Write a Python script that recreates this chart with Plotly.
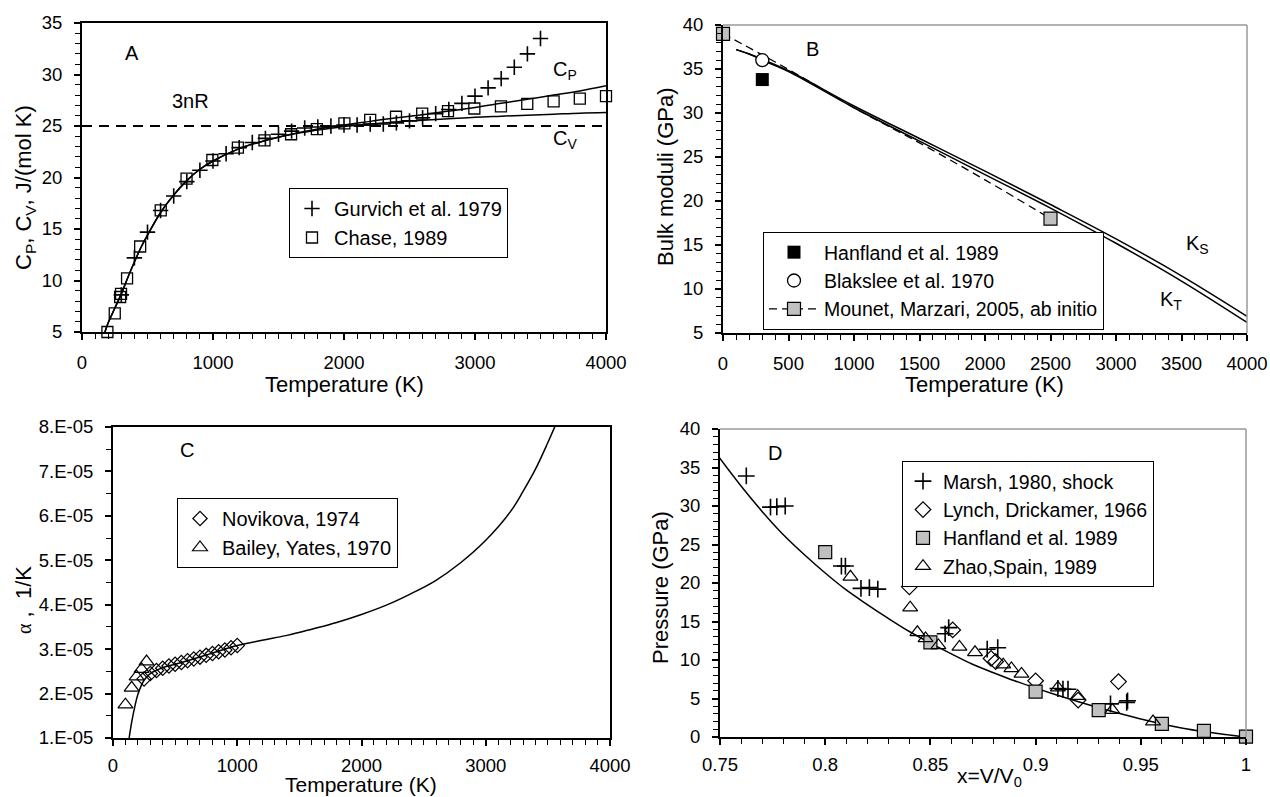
import plotly.graph_objects as go

W, H = 1270, 797
FONT = "Liberation Sans, Arial, sans-serif"

# ---------------- Panel A: heat capacity ----------------
a_curve_T = [175, 200, 250, 300, 350, 400, 450, 500, 600, 700, 800, 900, 1000, 1200, 1400, 1600,
             1800, 2000, 2200, 2400, 2600, 2800, 3000, 3200, 3400, 3600, 3800, 4000]
a_cp = [5.0, 5.9, 7.3, 8.7, 10.3, 11.8, 13.2, 14.4, 16.6, 18.3, 19.7, 20.8, 21.6, 22.8, 23.6, 24.2,
        24.7, 25.1, 25.45, 25.8, 26.1, 26.45, 26.8, 27.2, 27.6, 28.0, 28.4, 28.9]
a_cv = [5.0, 5.9, 7.3, 8.7, 10.3, 11.8, 13.2, 14.4, 16.6, 18.3, 19.7, 20.8, 21.6, 22.8, 23.6, 24.2,
        24.6, 24.95, 25.2, 25.4, 25.55, 25.7, 25.85, 25.95, 26.05, 26.15, 26.25, 26.3]
a_3nR_T = [0, 4000]
a_3nR = [25, 25]
gurvich_T = [300, 400, 500, 600, 700, 800, 900, 1000, 1100, 1200, 1300, 1400, 1500, 1600, 1700,
             1800, 1900, 2000, 2100, 2200, 2300, 2400, 2500, 2600, 2700, 2800, 2900, 3000, 3100,
             3200, 3300, 3400, 3500]
gurvich_cp = [8.6, 12.2, 14.7, 16.8, 18.2, 19.6, 20.7, 21.6, 22.3, 22.9, 23.4, 23.8, 24.2, 24.5,
              24.8, 24.9, 25.0, 25.1, 25.1, 25.2, 25.2, 25.3, 25.5, 25.8, 26.2, 26.6, 27.2, 27.9,
              28.7, 29.6, 30.7, 32.0, 33.5]
chase_T = [194, 250, 291, 298, 344, 444, 601, 798, 995, 1190, 1393, 1596, 1793, 2003, 2200, 2397,
           2597, 2794, 2995, 3198, 3399, 3600, 3800, 4000]
chase_cp = [5.0, 6.8, 8.4, 8.7, 10.2, 13.3, 16.8, 19.9, 21.7, 22.9, 23.6, 24.2, 24.7, 25.25, 25.6,
            25.9, 26.2, 26.45, 26.7, 26.9, 27.15, 27.4, 27.65, 27.9]

# ---------------- Panel B: bulk moduli ----------------
b_T = [100, 200, 300, 500, 1000, 1500, 2000, 2500, 3000, 3500, 4000]
b_KS = [37.2, 36.7, 36.1, 34.8, 30.8, 27.1, 23.4, 19.6, 15.7, 11.5, 6.9]
b_KT = [37.2, 36.7, 36.0, 34.7, 30.6, 26.8, 23.0, 19.2, 15.2, 10.9, 6.2]
hanfland_b_T = [300]
hanfland_b_K = [33.8]
blakslee_T = [300]
blakslee_K = [36.0]
mounet_T = [0, 2500]
mounet_K = [39.0, 18.0]
mounet_fit_T = [0, 300, 600, 1000, 1500, 2000, 2500]
mounet_fit_K = [39.0, 36.6, 34.1, 30.6, 26.6, 22.4, 18.0]

# ---------------- Panel C: thermal expansion ----------------
c_T = [130, 150, 175, 200, 250, 300, 400, 500, 600, 800, 1000, 1200, 1400, 1600, 1800, 2000, 2200,
       2400, 2600, 2800, 3000, 3200, 3300, 3400, 3500, 3570]
c_alpha = [1.0e-5, 1.35e-5, 1.7e-5, 1.98e-5, 2.3e-5, 2.45e-5, 2.58e-5, 2.66e-5, 2.74e-5, 2.91e-5,
           3.08e-5, 3.2e-5, 3.31e-5, 3.45e-5, 3.6e-5, 3.78e-5, 3.99e-5, 4.25e-5, 4.55e-5, 4.95e-5,
           5.45e-5, 6.1e-5, 6.55e-5, 7.05e-5, 7.65e-5, 8.1e-5]
novikova_T = [250, 300, 350, 400, 450, 500, 550, 600, 650, 700, 750, 800, 850, 900, 950, 1000]
novikova_alpha = [2.33e-5, 2.45e-5, 2.52e-5, 2.57e-5, 2.62e-5, 2.66e-5, 2.7e-5, 2.74e-5, 2.78e-5,
                  2.82e-5, 2.86e-5, 2.9e-5, 2.94e-5, 2.98e-5, 3.03e-5, 3.08e-5]
bailey_T = [100, 150, 190, 230, 270]
bailey_alpha = [1.75e-5, 2.13e-5, 2.38e-5, 2.55e-5, 2.72e-5]
c_tickvals = [1e-5, 2e-5, 3e-5, 4e-5, 5e-5, 6e-5, 7e-5, 8e-5]
c_ticktext = ["1.E-05", "2.E-05", "3.E-05", "4.E-05", "5.E-05", "6.E-05", "7.E-05", "8.E-05"]

# ---------------- Panel D: equation of state ----------------
d_x = [0.748, 0.76, 0.77, 0.78, 0.79, 0.80, 0.81, 0.82, 0.83, 0.84, 0.85, 0.86, 0.87, 0.88, 0.89,
       0.90, 0.91, 0.92, 0.93, 0.94, 0.95, 0.96, 0.97, 0.98, 0.99, 1.0]
d_P = [36.9, 32.6, 29.3, 26.3, 23.7, 21.3, 19.1, 17.2, 15.4, 13.7, 12.2, 10.8, 9.45, 8.35, 7.3,
       6.35, 5.45, 4.6, 3.8, 3.05, 2.35, 1.7, 1.15, 0.7, 0.32, 0.0]
marsh_x = [0.7625, 0.774, 0.777, 0.781, 0.8077, 0.8096, 0.817, 0.821, 0.825, 0.857, 0.8587,
           0.877, 0.882, 0.9106, 0.913, 0.9154, 0.9356, 0.9433, 0.9437]
marsh_P = [33.9, 29.85, 29.9, 30.0, 22.2, 22.2, 19.3, 19.4, 19.2, 13.4, 14.2, 11.4, 11.6, 6.3,
           6.2, 6.2, 4.3, 4.5, 4.7]
lynch_x = [0.84, 0.8606, 0.8788, 0.881, 0.90, 0.9202, 0.9394]
lynch_P = [19.5, 13.9, 10.2, 9.8, 7.3, 4.8, 7.2]
hanfland_d_x = [0.80, 0.85, 0.90, 0.93, 0.96, 0.98, 1.0]
hanfland_d_P = [24.0, 12.3, 5.9, 3.5, 1.7, 0.8, 0.05]
zhao_x = [0.812, 0.8404, 0.8438, 0.8477, 0.8538, 0.8638, 0.8712, 0.8846, 0.8885, 0.8933, 0.9106,
          0.920, 0.9365, 0.9558]
zhao_P = [20.8, 16.8, 13.6, 12.8, 11.9, 11.7, 11.0, 9.4, 8.9, 8.2, 6.4, 5.3, 3.5, 2.0]

GRAY = "#c0c0c0"
fig = go.Figure()

# Panel A traces
fig.add_trace(go.Scatter(x=a_3nR_T, y=a_3nR, mode="lines", xaxis="x", yaxis="y", showlegend=False,
                         line=dict(color="black", width=2, dash="10px,7px")))
fig.add_trace(go.Scatter(x=a_curve_T, y=a_cv, mode="lines", xaxis="x", yaxis="y", showlegend=False,
                         line=dict(color="black", width=1.5, shape="spline")))
fig.add_trace(go.Scatter(x=a_curve_T, y=a_cp, mode="lines", xaxis="x", yaxis="y", showlegend=False,
                         line=dict(color="black", width=1.5, shape="spline")))
fig.add_trace(go.Scatter(x=gurvich_T, y=gurvich_cp, mode="markers", xaxis="x", yaxis="y",
                         name="Gurvich et al. 1979", legend="legend", legendgroup="a1",
                         marker=dict(symbol="cross-thin-open", size=11, color="black",
                                     line=dict(color="black", width=1.6))))
fig.add_trace(go.Scatter(x=chase_T, y=chase_cp, mode="markers", xaxis="x", yaxis="y",
                         name="Chase, 1989", legend="legend", legendgroup="a2", cliponaxis=False,
                         marker=dict(symbol="square-open", size=11, color="black", line=dict(width=1.3))))

# Panel B traces
fig.add_trace(go.Scatter(x=mounet_fit_T, y=mounet_fit_K, mode="lines", xaxis="x2", yaxis="y2",
                         showlegend=False, line=dict(color="black", width=1.3, dash="8px,5px", shape="spline")))
fig.add_trace(go.Scatter(x=b_T, y=b_KS, mode="lines", xaxis="x2", yaxis="y2", showlegend=False,
                         line=dict(color="black", width=1.5, shape="spline")))
fig.add_trace(go.Scatter(x=b_T, y=b_KT, mode="lines", xaxis="x2", yaxis="y2", showlegend=False,
                         line=dict(color="black", width=1.5, shape="spline")))
fig.add_trace(go.Scatter(x=hanfland_b_T, y=hanfland_b_K, mode="markers", xaxis="x2", yaxis="y2",
                         name="Hanfland et al. 1989", legend="legend2",
                         marker=dict(symbol="square", size=13, color="black")))
fig.add_trace(go.Scatter(x=blakslee_T, y=blakslee_K, mode="markers", xaxis="x2", yaxis="y2",
                         name="Blakslee et al. 1970", legend="legend2",
                         marker=dict(symbol="circle", size=13, color="white", line=dict(color="black", width=1.3))))
fig.add_trace(go.Scatter(x=[mounet_T[0], None, mounet_T[1]], y=[mounet_K[0], None, mounet_K[1]],
                         mode="lines+markers", xaxis="x2", yaxis="y2", connectgaps=False, cliponaxis=False,
                         name="Mounet, Marzari, 2005, ab initio", legend="legend2",
                         line=dict(color="black", width=1.3, dash="8px,5px"),
                         marker=dict(symbol="square", size=13, color=GRAY, line=dict(color="black", width=1.2))))

# Panel C traces
fig.add_trace(go.Scatter(x=c_T, y=c_alpha, mode="lines", xaxis="x3", yaxis="y3", showlegend=False,
                         line=dict(color="black", width=1.5, shape="spline")))
fig.add_trace(go.Scatter(x=novikova_T, y=novikova_alpha, mode="markers", xaxis="x3", yaxis="y3",
                         name="Novikova, 1974", legend="legend3", legendgroup="c1",
                         marker=dict(symbol="diamond-open", size=11, color="black", line=dict(width=1.2))))
fig.add_trace(go.Scatter(x=bailey_T, y=bailey_alpha, mode="markers", xaxis="x3", yaxis="y3",
                         name="Bailey, Yates, 1970", legend="legend3", legendgroup="c2",
                         marker=dict(symbol="triangle-up-open", size=13, color="black", line=dict(width=1.2))))

# Panel D traces
fig.add_trace(go.Scatter(x=d_x, y=d_P, mode="lines", xaxis="x4", yaxis="y4", showlegend=False,
                         line=dict(color="black", width=1.5, shape="spline")))
fig.add_trace(go.Scatter(x=marsh_x, y=marsh_P, mode="markers", xaxis="x4", yaxis="y4",
                         name="Marsh, 1980, shock", legend="legend4",
                         marker=dict(symbol="cross-thin-open", size=12, color="black",
                                     line=dict(color="black", width=1.6))))
fig.add_trace(go.Scatter(x=lynch_x, y=lynch_P, mode="markers", xaxis="x4", yaxis="y4",
                         name="Lynch, Drickamer, 1966", legend="legend4",
                         marker=dict(symbol="diamond-open", size=12, color="black", line=dict(width=1.2))))
fig.add_trace(go.Scatter(x=hanfland_d_x, y=hanfland_d_P, mode="markers", xaxis="x4", yaxis="y4",
                         name="Hanfland et al. 1989", legend="legend4", cliponaxis=False,
                         marker=dict(symbol="square", size=13, color=GRAY, line=dict(color="black", width=1.2))))
fig.add_trace(go.Scatter(x=zhao_x, y=zhao_P, mode="markers", xaxis="x4", yaxis="y4",
                         name="Zhao,Spain, 1989", legend="legend4",
                         marker=dict(symbol="triangle-up-open", size=13, color="black", line=dict(width=1.2))))

TICKF = dict(family=FONT, size=18.5, color="black")


def xax(domain, anchor, rng, dtick, minor, mirror=True, standoff=7):
    return dict(domain=domain, anchor=anchor, range=rng, dtick=dtick, tick0=rng[0], automargin=False,
                showgrid=False, zeroline=False, showline=True, linecolor="black", linewidth=2,
                mirror=mirror, ticks="outside", ticklen=6, tickwidth=1.5, tickcolor="black",
                ticklabelstandoff=standoff, tickfont=TICKF,
                minor=dict(dtick=minor, ticks="outside", ticklen=5, tickwidth=1.2, tickcolor="black",
                           showgrid=False))


def yax(domain, anchor, rng, dtick, minor, mirror=True, **kw):
    d = dict(domain=domain, anchor=anchor, range=rng, dtick=dtick, tick0=rng[0], automargin=False,
             showgrid=False, zeroline=False, showline=True, linecolor="black", linewidth=2,
             mirror=mirror, ticks="outside", ticklen=6, tickwidth=1.5, tickcolor="black",
             ticklabelstandoff=8, tickfont=TICKF,
             minor=dict(dtick=minor, ticks="outside", ticklen=5, tickwidth=1.2, tickcolor="black",
                        showgrid=False))
    d.update(kw)
    return d


def inner(base, anchor, rng, dtick, side, **kw):
    # overlay axis that draws the inner half of the crossing major ticks
    d = dict(overlaying=base, anchor=anchor, side=side, range=rng, dtick=dtick, tick0=rng[0],
             automargin=False, showgrid=False, zeroline=False, showline=False,
             ticks="inside", ticklen=6, tickwidth=1.5, tickcolor="black", showticklabels=False)
    d.update(kw)
    return d


def px(xp):
    return xp / W


def py(yp):
    return 1 - yp / H


dA_x = [px(82), px(606)]
dA_y = [py(332), py(23)]
dB_x = [px(723), px(1247)]
dB_y = [py(333), py(25)]
dC_x = [px(113), px(610)]
dC_y = [py(738), py(427)]
dD_x = [px(720), px(1246)]
dD_y = [py(737), py(429)]


def leg(x, y, size=20, itemwidth=30, gap=0):
    return dict(x=px(x), y=py(y), xanchor="left", yanchor="top", xref="paper", yref="paper",
                bgcolor="white", bordercolor="black", borderwidth=1,
                font=dict(family=FONT, size=size, color="black"),
                tracegroupgap=gap, itemwidth=itemwidth, traceorder="normal")


fig.update_layout(
    template="none",
    width=W, height=H, margin=dict(l=0, r=0, t=0, b=0, autoexpand=False),
    paper_bgcolor="white", plot_bgcolor="white",
    font=dict(family=FONT, size=19, color="black"),
    xaxis=xax(dA_x, "y", [0, 4000], 1000, 100),
    yaxis=yax(dA_y, "x", [5, 35], 5, 1),
    xaxis2=xax(dB_x, "y2", [0, 4000], 500, 100, mirror=False),
    yaxis2=yax(dB_y, "x2", [5, 40], 5, 1, mirror=False),
    xaxis3=xax(dC_x, "y3", [0, 4000], 1000, 100, standoff=4),
    yaxis3=yax(dC_y, "x3", [1e-5, 8e-5], None, 5e-6, tickvals=c_tickvals, ticktext=c_ticktext),
    xaxis4=xax(dD_x, "y4", [0.75, 1.0], 0.05, 0.01, mirror=False, standoff=4),
    yaxis4=yax(dD_y, "x4", [0, 40], 5, 1, mirror=False),
    xaxis5=inner("x", "y", [0, 4000], 1000, "bottom"),
    yaxis5=inner("y", "x", [5, 35], 5, "left"),
    xaxis6=inner("x2", "y2", [0, 4000], 500, "bottom"),
    yaxis6=inner("y2", "x2", [5, 40], 5, "left"),
    xaxis7=inner("x3", "y3", [0, 4000], 1000, "bottom"),
    yaxis7=inner("y3", "x3", [1e-5, 8e-5], None, "left", tickvals=c_tickvals),
    xaxis8=inner("x4", "y4", [0.75, 1.0], 0.05, "bottom"),
    yaxis8=inner("y4", "x4", [0, 40], 5, "left"),
    legend=leg(289, 188, size=20, itemwidth=34, gap=6),
    legend2=leg(763, 232, size=19.5, itemwidth=50),
    legend3=leg(177, 498, size=20, itemwidth=34, gap=10),
    legend4=leg(902, 461, size=19.5, itemwidth=30),
)

# gray top/right frame lines for panels B and D
for xa, ya in (("x2", "y2"), ("x4", "y4")):
    fig.add_shape(type="line", xref=f"{xa} domain", yref=f"{ya} domain", x0=0, x1=1, y0=1, y1=1,
                  line=dict(color="#999999", width=1.5))
    fig.add_shape(type="line", xref=f"{xa} domain", yref=f"{ya} domain", x0=1, x1=1, y0=0, y1=1,
                  line=dict(color="#999999", width=1.5))

LBL = dict(family=FONT, size=20, color="black")

# in-plot labels
labels = [
    ("x", "y", 380, 32.1, "A"),
    ("x", "y", 830, 27.4, "3nR"),
    ("x", "y", 3690, 30.4, "C<sub>P</sub>"),
    ("x", "y", 3690, 23.7, "C<sub>V</sub>"),
    ("x2", "y2", 680, 37.3, "B"),
    ("x2", "y2", 3620, 15.0, "K<sub>S</sub>"),
    ("x2", "y2", 3420, 8.7, "K<sub>T</sub>"),
    ("x3", "y3", 593, 7.49e-5, "C"),
    ("x4", "y4", 0.776, 36.9, "D"),
]
for xr, yr, x, y, t in labels:
    fig.add_annotation(x=x, y=y, xref=xr, yref=yr, text=t, showarrow=False, font=LBL)

# axis titles
titles = [
    (344, 384, "Temperature (K)", 0, 22),
    (25, 188, "C<sub>P</sub>, C<sub>V</sub>, J/(mol K)", -90, 22),
    (985, 384, "Temperature (K)", 0, 22),
    (666, 177, "Bulk moduli (GPa)", -90, 22),
    (361, 784, "Temperature (K)", 0, 21),
    (23, 600, "<span style='font-family:Liberation Serif;font-size:20px'>α</span> ,  1/K", -90, 22),
    (989, 777, "x=V/V<sub>0</sub>", 0, 21),
    (660, 588, "Pressure (GPa)", -90, 22),
]
for x, y, t, ang, fs in titles:
    fig.add_annotation(x=px(x), y=py(y), xref="paper", yref="paper", text=t, showarrow=False,
                       font=dict(family=FONT, size=fs, color="black"), textangle=ang,
                       xanchor="center", yanchor="middle")

# remove the browser's default page margin so the figure starts at the window's corner
fig.write_html("out.html", config={"displayModeBar": False},
               post_script="document.body.style.margin='0px';document.body.style.overflow='hidden';")
